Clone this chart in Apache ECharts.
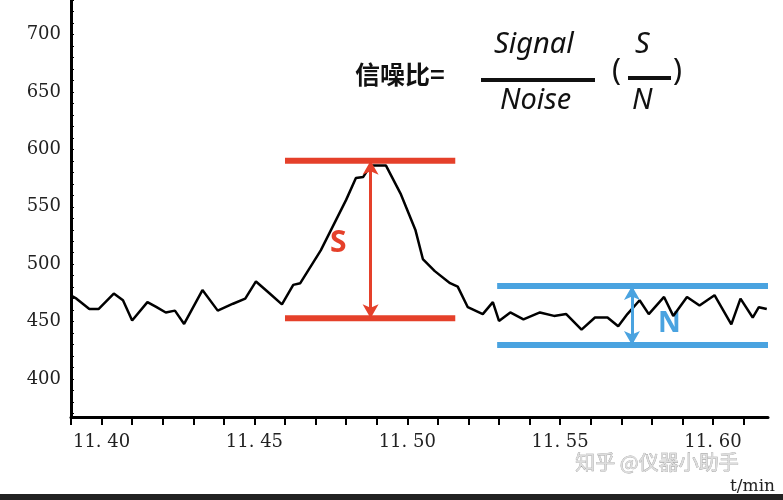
<!DOCTYPE html>
<html><head><meta charset="utf-8">
<script src="https://cdn.jsdelivr.net/npm/echarts@6/dist/echarts.min.js"></script>
<style>html,body{margin:0;padding:0;background:#fff}#c{width:783px;height:500px}</style>
</head><body><div id="c"></div>
<script>
const times=[11.3905,11.3918,11.396,11.399,11.404,11.407,11.410,11.415,11.418,11.421,11.424,11.427,11.433,11.438,11.443,11.447,11.4505,11.455,11.459,11.4627,11.465,11.4717,11.480,11.4832,11.4856,11.488,11.493,11.4978,11.5027,11.5051,11.509,11.514,11.5165,11.5198,11.5247,11.528,11.530,11.5337,11.538,11.5434,11.548,11.552,11.557,11.5614,11.5655,11.569,11.572,11.576,11.579,11.584,11.587,11.5915,11.5956,11.6005,11.606,11.609,11.613,11.615,11.6176];
const signal=[472,470,461,461,474.5,468.6,451,467,462.6,458,459.6,448,477.5,459.6,465.6,470,485,474.5,465,482,483.5,512,556,575,576,586,586,561.5,529.5,504.5,494,483.5,480.5,462.6,456.6,467,450.6,458,452,458,455,456.6,443,453.6,453.6,446,456.6,468.6,456.6,471.5,455,471.5,464,473,447.6,470,453.6,462.6,461];
const yTickLabels=[400,450,500,550,600,650,700];
const xTickLabels=[11.40,11.45,11.50,11.55,11.60];
const sTop=590, sBottom=453, sX0=11.460, sX1=11.5157, sArrowX=11.488;
const nTop=481, nBottom=429.6, nX0=11.5294, nX1=11.618, nArrowX=11.5735;

const yMinor=[];for(let v=370;v<=730;v+=10)yMinor.push(v);
const xMinor=[];for(let i=0;i<=22;i++)xMinor.push(+(11.39+i*0.01).toFixed(2));
const red='#e5402a', blue='#4aa3e0';
const chart=echarts.init(document.getElementById('c'));
chart.setOption({
 animation:false,
 grid:{left:71,top:0,right:15,bottom:83},
 xAxis:{type:'value',min:11.39,max:11.618,
  axisLine:{lineStyle:{color:'#000',width:3}},
  axisTick:{customValues:xMinor,length:8,lineStyle:{color:'#000',width:2}},
  axisLabel:{customValues:xTickLabels,formatter:v=>v.toFixed(2).replace('.','. '),color:'#222',fontFamily:'DejaVu Serif',fontSize:18,margin:16},
  splitLine:{show:false}},
 yAxis:{type:'value',min:367,max:730,
  axisLine:{show:true,lineStyle:{color:'#000',width:3}},
  axisTick:{show:true,inside:true,customValues:yMinor,length:3,lineStyle:{color:'#000'}},
  axisLabel:{customValues:yTickLabels,color:'#222',fontFamily:'DejaVu Serif',fontSize:18,margin:10},
  splitLine:{show:false}},
 series:[
  {type:'line',data:times.map((t,i)=>[t,signal[i]]),symbol:'none',lineStyle:{color:'#000',width:2.5},
   markLine:{silent:true,symbol:['arrow','arrow'],symbolSize:[12,14],label:{show:false},
    data:[
     [{coord:[sArrowX,sTop],lineStyle:{color:red,width:3,type:'solid'},itemStyle:{color:red}},{coord:[sArrowX,sBottom]}],
     [{coord:[nArrowX,nTop],lineStyle:{color:blue,width:3,type:'solid'},itemStyle:{color:blue}},{coord:[nArrowX,nBottom]}]
    ]}},
  {type:'line',data:[[sX0,sTop],[sX1,sTop]],symbol:'none',lineStyle:{color:red,width:6}},
  {type:'line',data:[[sX0,sBottom],[sX1,sBottom]],symbol:'none',lineStyle:{color:red,width:6}},
  {type:'line',data:[[nX0,nTop],[nX1,nTop]],symbol:'none',lineStyle:{color:blue,width:6}},
  {type:'line',data:[[nX0,nBottom],[nX1,nBottom]],symbol:'none',lineStyle:{color:blue,width:6}}
 ],
 graphic:[
  {type:'text',left:330,top:228,style:{text:'S',fill:red,font:'bold 30px Noto Sans'}},
  {type:'text',left:658,top:310,style:{text:'N',fill:blue,font:'bold 28px Noto Sans'}},
  {type:'text',left:355,top:62,style:{text:'信噪比=',fill:'#111',font:'bold 25px "Noto Sans CJK SC"'}},
  {type:'text',left:494,top:30,style:{text:'Signal',fill:'#111',font:'italic 29px Noto Sans'}},
  {type:'rect',shape:{x:481,y:78,width:114,height:4},style:{fill:'#111'}},
  {type:'text',left:500,top:86,style:{text:'Noise',fill:'#111',font:'italic 29px Noto Sans'}},
  {type:'text',left:612,top:56,style:{text:'(',fill:'#111',font:'30px Noto Sans'}},
  {type:'text',left:635,top:30,style:{text:'S',fill:'#111',font:'italic 29px Noto Sans'}},
  {type:'rect',shape:{x:628,y:76,width:43,height:4},style:{fill:'#111'}},
  {type:'text',left:632,top:86,style:{text:'N',fill:'#111',font:'italic 29px Noto Sans'}},
  {type:'text',left:673,top:56,style:{text:')',fill:'#111',font:'30px Noto Sans'}},
  {type:'text',left:575,top:452,style:{text:'知乎 @仪器小助手',fill:'#ddd',stroke:'#999',lineWidth:0.6,font:'20px "Noto Sans CJK SC"'}},
  {type:'text',left:730,top:478,style:{text:'t/min',fill:'#222',font:'17px DejaVu Serif'}},
  {type:'rect',shape:{x:0,y:494,width:783,height:6},style:{fill:'#222'}}
 ]
});
</script></body></html>
